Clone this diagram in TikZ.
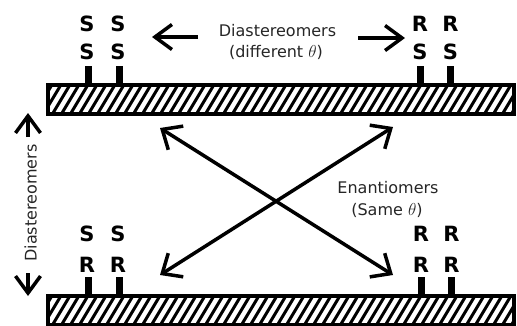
\documentclass[tikz,border=0pt]{standalone}
\usepackage{fontspec}
\setmainfont{DejaVu Sans}
\usetikzlibrary{arrows.meta}
\tikzset{
  barframe/.style={line width=4pt},
  hatchline/.style={line width=3pt},
  stub/.style={line width=7pt},
  lett/.style={font=\bfseries\fontsize{21}{21}\selectfont, inner sep=0pt, anchor=base},
  lbl/.style={font=\fontsize{16}{16}\selectfont, inner sep=0pt, anchor=base, text=black!85},
  arr/.style={line width=3.5pt, -{Straight Barb[length=17pt,width=25pt]}},
  darr/.style={line width=3.5pt, {Straight Barb[length=16pt,width=28pt]}-{Straight Barb[length=16pt,width=28pt]}},
}
\begin{document}
\begin{tikzpicture}[x=1pt,y=-1pt]
\useasboundingbox (0,0) rectangle (517,325);
\clip (0,0) rectangle (517,325);
% bars with hatching
\foreach \ty/\nm in {85/topbar,296/botbar}{
  \begin{scope}
    \clip (48,\ty) rectangle (514,\ty+29);
    \foreach \i in {-40,-31,...,530}{
      \draw[hatchline] (\i,\ty+33) -- ++(22.2,-37);
    }
  \end{scope}
  \draw[barframe] (48,\ty) rectangle (514,\ty+29);
}
\coordinate (topbar) at (281,85);
\coordinate (botbar) at (281,296);
% stubs
\foreach \x in {88.5,119,420,450.5}{
  \draw[stub] (\x,66) -- (\x,86);
}
\foreach \x in {88.5,119.5,421,451.5}{
  \draw[stub] (\x,277) -- (\x,297);
}
% letters top
\node[lett] (t1a) at (87,31) {S};
\node[lett] (t2a) at (118,31) {S};
\node[lett] (t1b) at (87,59.5) {S};
\node[lett] (t2b) at (118,59.5) {S};
\node[lett] (t3a) at (420,31) {R};
\node[lett] (t4a) at (450.5,31) {R};
\node[lett] (t3b) at (420,59.5) {S};
\node[lett] (t4b) at (450.5,59.5) {S};
% letters bottom
\node[lett] (b1a) at (87,241.5) {S};
\node[lett] (b2a) at (118,241.5) {S};
\node[lett] (b1b) at (87,272.5) {R};
\node[lett] (b2b) at (118,272.5) {R};
\node[lett] (b3a) at (421,241.5) {R};
\node[lett] (b4a) at (451.5,241.5) {R};
\node[lett] (b3b) at (421,272.5) {R};
\node[lett] (b4b) at (451.5,272.5) {R};
% labels
\node[lbl] (dia1) at (277.5,36.7) {Diastereomers};
\node[lbl] (dia2) at (276,57) {(different $\theta$)};
\node[lbl] (ena1) at (388,193.3) {Enantiomers};
\node[lbl] (ena2) at (387,215) {(Same $\theta$)};
\node[lbl, rotate=90] (diav) at (36.5,203) {Diastereomers};
% arrow end points
\coordinate (la0) at (198,37);
\coordinate (la1) at (152,37);
\coordinate (ra0) at (358,38);
\coordinate (ra1) at (405,38);
\coordinate (ua0) at (28,137);
\coordinate (ua1) at (28,113);
\coordinate (da0) at (28,273);
\coordinate (da1) at (28,296);
\coordinate (xtl) at (160,128);
\coordinate (xtr) at (393,127);
\coordinate (xbl) at (160,275);
\coordinate (xbr) at (393,275);
% arrows
\draw[arr] (la0) -- (la1);
\draw[arr] (ra0) -- (ra1);
\draw[arr] (ua0) -- (ua1);
\draw[arr] (da0) -- (da1);
\draw[darr] (xtl) -- (xbr);
\draw[darr] (xtr) -- (xbl);
\end{tikzpicture}
\end{document}
